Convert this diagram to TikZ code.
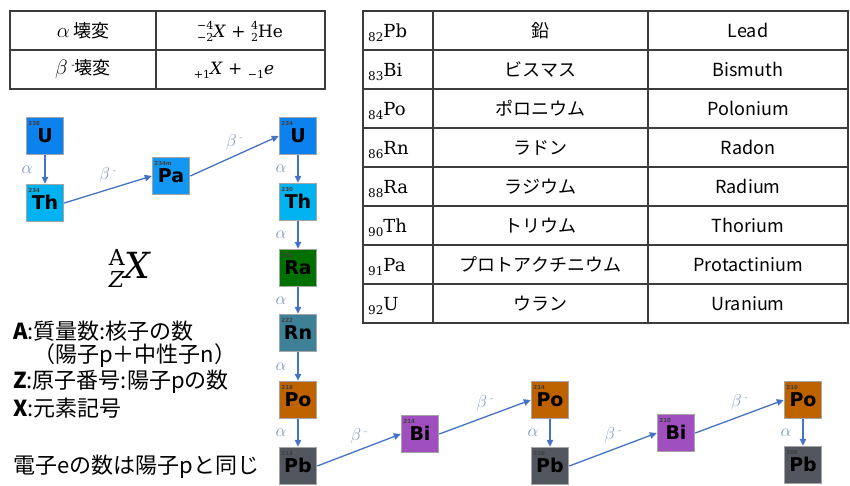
\documentclass[tikz,border=0pt]{standalone}
\usepackage{fontspec}
\usetikzlibrary{arrows.meta}
\newfontfamily\jpf{Noto Sans CJK JP}
\newfontfamily\elf{DejaVu Sans}
\newfontfamily\dvs{DejaVu Serif}
\definecolor{cU}{RGB}{12,130,238}
\definecolor{cTh}{RGB}{0,178,240}
\definecolor{cPa}{RGB}{18,152,242}
\definecolor{cRa}{RGB}{0,112,0}
\definecolor{cRn}{RGB}{62,128,150}
\definecolor{cPo}{RGB}{190,98,0}
\definecolor{cPb}{RGB}{82,86,94}
\definecolor{cBi}{RGB}{160,80,190}
\definecolor{arrc}{RGB}{68,114,196}
\definecolor{lblc}{RGB}{125,148,200}
\definecolor{bord}{RGB}{165,165,165}
\definecolor{tblc}{RGB}{60,60,60}
\tikzset{
  elem/.style={fill=#1, draw=bord, line width=1.5pt, minimum size=37pt, inner sep=0pt,
    font=\elf\bfseries\fontsize{19}{19}\selectfont, text height=12pt, text depth=0pt},
  mass/.style={anchor=north west, inner sep=0pt, xshift=2.5pt, yshift=-4pt,
    font=\elf\bfseries\fontsize{5.5}{5.5}\selectfont, text=black!75},
  arr/.style={draw=arrc, line width=1.3pt, -{Triangle[length=7pt,width=6.5pt]}},
  alab/.style={text=lblc, inner sep=0pt, font=\fontsize{19}{19}\selectfont},
  tline/.style={draw=tblc, line width=1.1pt},
  jtxt/.style={inner sep=0pt, font=\jpf\fontsize{18}{18}\selectfont},
  mtxt/.style={inner sep=0pt, font=\dvs\fontsize{17}{17}\selectfont},
  stxt/.style={inner sep=0pt, anchor=base west, font=\dvs\fontsize{18}{18}\selectfont},
  ltxt/.style={inner sep=0pt, anchor=west, font=\jpf\fontsize{22}{22}\selectfont},
}
\newcommand{\bminus}{$\beta$\,\raisebox{6pt}{\fontsize{10}{10}\selectfont -}}
\newcommand{\pres}[2]{\raisebox{-4pt}{\fontsize{11}{11}\selectfont\shortstack[r]{#1\\#2}}}
\newcommand{\presub}[1]{\raisebox{-4pt}{\fontsize{11}{11}\selectfont #1}}
\newcommand{\nucsym}[2]{\raisebox{-4pt}{\fontsize{12}{12}\selectfont #1}#2}
\begin{document}
\begin{tikzpicture}[x=1pt,y=-1pt]
\useasboundingbox (0,0) rectangle (850,485);

% ---- top-left table
\draw[tline] (10,11) rectangle (325,89);
\draw[tline] (156,11) -- (156,89);
\draw[tline] (10,50) -- (325,50);
\node[jtxt] (alpha) at (83,31) {{\fontsize{21}{21}\selectfont$\alpha$}\,壊変};
\node[mtxt, anchor=base] (alphaeq) at (240,37) {\pres{−4}{−2}\textit{X} + \pres{4}{2}He};
\node[jtxt] (beta) at (83,69) {{\fontsize{21}{21}\selectfont$\beta$\,\raisebox{6pt}{\fontsize{10}{10}\selectfont -}}壊変};
\node[mtxt, anchor=base] (betaeq) at (234,74) {\presub{+1}\textit{X} + \presub{−1}\textit{e}};

% ---- right table
\draw[tline] (363,11) rectangle (848,323);
\draw[tline] (433,11) -- (433,323);
\draw[tline] (648,11) -- (648,323);
\foreach \r in {1,...,7} { \draw[tline] (363,{11+39*\r}) -- (848,{11+39*\r}); }
\foreach \z/\s/\j/\e [count=\i from 0] in
  {82/Pb/鉛/Lead, 83/Bi/ビスマス/Bismuth, 84/Po/ポロニウム/Polonium, 86/Rn/ラドン/Radon,
   88/Ra/ラジウム/Radium, 90/Th/トリウム/Thorium, 91/Pa/プロトアクチニウム/Protactinium, 92/U/ウラン/Uranium}
{
  \node[stxt] (sym\i) at (368,{37+39*\i}) {\nucsym{\z}{\s}};
  \node[jtxt] (jp\i) at (540.5,{30.5+39*\i}) {\j};
  \node[jtxt] (en\i) at (748,{30.5+39*\i}) {\e};
}

% ---- left notes
\node[inner sep=0pt, anchor=base west, font=\dvs] (azx) at (109,278)
  {{\fontsize{22}{22}\selectfont\makebox[15pt][c]{\raisebox{-9pt}{\textit{Z}}}\llap{\makebox[15pt][c]{\raisebox{13pt}{A}}}}{\fontsize{36}{36}\selectfont\textit{X}}};
\node[ltxt] (tA) at (13,331) {{\bfseries A}:質量数:核子の数};
\node[ltxt] (tA2) at (33,356) {（陽子p＋中性子n）};
\node[ltxt] (tZ) at (13,382) {{\bfseries Z}:原子番号:陽子pの数};
\node[ltxt] (tX) at (13,408) {{\bfseries X}:元素記号};
\node[ltxt] (te) at (13,467) {電子eの数は陽子pと同じ};

% ---- nuclides
\node[elem=cU,  label={[mass]north west:238}]  (u238)  at (45,136)  {U};
\node[elem=cTh, label={[mass]north west:234}]  (th234) at (45,203)  {Th};
\node[elem=cPa, label={[mass]north west:234m}] (pa234) at (171,176) {Pa};
\node[elem=cU,  label={[mass]north west:234}]  (u234)  at (298,136) {U};
\node[elem=cTh, label={[mass]north west:230}]  (th230) at (298,202) {Th};
\node[elem=cRa, label={[mass]north west:226}]  (ra226) at (298,268) {Ra};
\node[elem=cRn, label={[mass]north west:222}]  (rn222) at (298,333) {Rn};
\node[elem=cPo, label={[mass]north west:218}]  (po218) at (298,400) {Po};
\node[elem=cPb, label={[mass]north west:214}]  (pb214) at (298,466) {Pb};
\node[elem=cBi, label={[mass]north west:214}]  (bi214) at (420,434) {Bi};
\node[elem=cPo, label={[mass]north west:214}]  (po214) at (550,400) {Po};
\node[elem=cPb, label={[mass]north west:210}]  (pb210) at (550,466) {Pb};
\node[elem=cBi, label={[mass]north west:210}]  (bi210) at (676,433) {Bi};
\node[elem=cPo, label={[mass]north west:210}]  (po210) at (803,400) {Po};
\node[elem=cPb, label={[mass]north west:206}]  (pb206) at (803,465) {Pb};

% ---- decays
\draw[arr] (u238) -- node[alab, xshift=-18pt] (a1) {$\alpha$} (th234);
\draw[arr] (th234.east) -- node[alab, yshift=14pt] (b1) {\bminus} (pa234.west);
\draw[arr] (pa234.east) -- node[alab, yshift=14pt] (b2) {\bminus} (u234.west);
\draw[arr] (u234) -- node[alab, xshift=-17pt] (a2) {$\alpha$} (th230);
\draw[arr] (th230) -- node[alab, xshift=-17pt] (a3) {$\alpha$} (ra226);
\draw[arr] (ra226) -- node[alab, xshift=-17pt] (a4) {$\alpha$} (rn222);
\draw[arr] (rn222) -- node[alab, xshift=-17pt] (a5) {$\alpha$} (po218);
\draw[arr] (po218) -- node[alab, xshift=-17pt] (a6) {$\alpha$} (pb214);
\draw[arr] (pb214.east) -- node[alab, yshift=14pt] (b3) {\bminus} (bi214.west);
\draw[arr] (bi214.east) -- node[alab, yshift=14pt] (b4) {\bminus} (po214.west);
\draw[arr] (po214) -- node[alab, xshift=-17pt] (a7) {$\alpha$} (pb210);
\draw[arr] (pb210.east) -- node[alab, yshift=14pt] (b5) {\bminus} (bi210.west);
\draw[arr] (bi210.east) -- node[alab, yshift=14pt] (b6) {\bminus} (po210.west);
\draw[arr] (po210) -- node[alab, xshift=-17pt] (a8) {$\alpha$} (pb206);
\end{tikzpicture}
\end{document}
